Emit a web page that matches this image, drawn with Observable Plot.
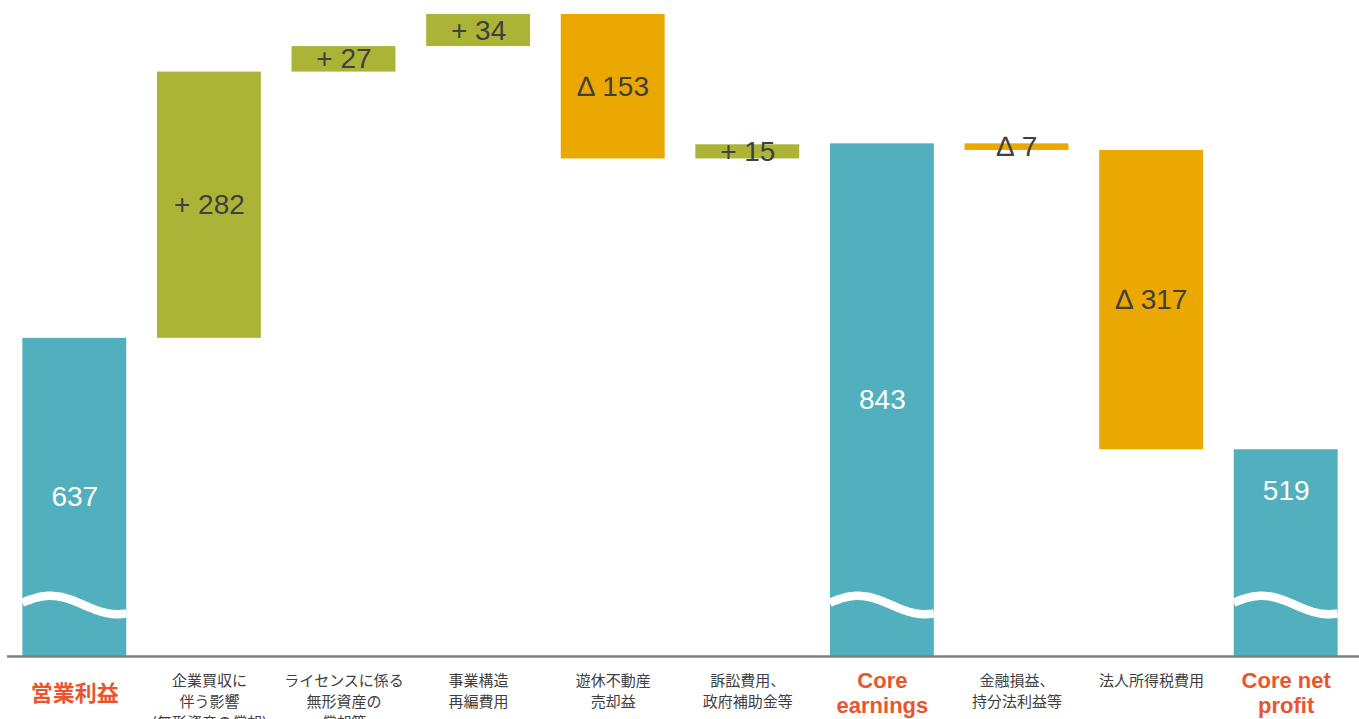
<!DOCTYPE html>
<html>
<head>
<meta charset="utf-8">
<script src="https://cdn.jsdelivr.net/npm/d3@7"></script>
<script src="https://cdn.jsdelivr.net/npm/@observablehq/plot@0.6"></script>
<style>
  html, body { margin: 0; padding: 0; background: #fff; }
  #chart svg { display: block; }
</style>
</head>
<body>
<div id="chart"></div>
<script>
// ---- data ----
const categories = [
  "営業利益",
  "企業買収に\n伴う影響\n(無形資産の償却)",
  "ライセンスに係る\n無形資産の\n償却等",
  "事業構造\n再編費用",
  "遊休不動産\n売却益",
  "訴訟費用、\n政府補助金等",
  "Core\nearnings",
  "金融損益、\n持分法利益等",
  "法人所得税費用",
  "Core net\nprofit"
];
const values = [637, 282, 27, 34, -153, 15, 843, -7, -317, 519];
const kinds = ["total", "delta", "delta", "delta", "delta", "delta", "total", "delta", "delta", "total"];
const axisBase = 300;   // truncated axis start
const axisTop = 980;
const axisBreak = 354;  // where the wavy break is drawn on total bars

// ---- derived table ----
let running = 0;
const rows = categories.map((cat, i) => {
  const v = values[i];
  const kind = kinds[i];
  let y1, y2, label;
  if (kind === "total") {
    y1 = axisBase; y2 = v; running = v; label = String(v);
  } else {
    y1 = running; y2 = running + v; running = y2;
    label = v >= 0 ? "+ " + v : "∆ " + Math.abs(v);
  }
  return {cat, v, kind, y1, y2, label, sign: kind === "total" ? "total" : (v >= 0 ? "pos" : "neg")};
});
const totals = rows.filter(d => d.kind === "total");
const deltas = rows.filter(d => d.kind === "delta");

const colors = {total: "#52B0BE", pos: "#ABB436", neg: "#EBA800"};
const textDark = "#404040";
const accent = "#E9552F";
const latin = "'Liberation Sans', Arial, 'Noto Sans CJK JP', sans-serif";

const chart = Plot.plot({
  width: 1359,
  height: 719,
  marginTop: 14,
  marginBottom: 63,
  marginLeft: 7,
  marginRight: 6,
  style: {fontFamily: latin, background: "#fff"},
  x: {domain: categories, paddingInner: 0.228, paddingOuter: 0.114, round: false, axis: null},
  y: {domain: [axisBase, axisTop], axis: null},
  marks: [
    Plot.barY(deltas, {x: "cat", y1: "y1", y2: "y2", fill: d => colors[d.sign]}),
    Plot.barY(totals, {
      x: "cat", y1: "y1", y2: "y2", fill: colors.total,
      render(index, scales, vals, dimensions, context, next) {
        const g = next(index, scales, vals, dimensions, context);
        const bw = scales.x.bandwidth();
        const yc = scales.y(axisBreak);
        const line = d3.line().curve(d3.curveBasis);
        for (const d of totals) {
          const x0 = scales.x(d.cat);
          const pts = d3.range(0, 41).map(k => {
            const t = k / 40 * bw;
            return [x0 + t, yc - 9.25 * Math.cos(2 * Math.PI * (t - 28) / 134)];
          });
          d3.select(g).append("path")
            .attr("d", line(pts))
            .attr("fill", "none")
            .attr("stroke", "#fff")
            .attr("stroke-width", 8.5);
        }
        return g;
      }
    }),
    Plot.ruleY([axisBase], {stroke: "#808080", strokeWidth: 2.6, insetRight: -6}),
    // value labels
    Plot.text(deltas, {x: "cat", y: d => (d.y1 + d.y2) / 2, text: "label", fill: textDark, fontSize: 28, fontFamily: latin}),
    Plot.text(totals.slice(0, 2), {x: "cat", y: d => (d.y1 + d.y2) / 2, text: "label", fill: "#fff", fontSize: 28, fontFamily: latin}),
    Plot.text(totals.slice(2), {x: "cat", y: d => d.y2, dy: 41, text: "label", fill: "#fff", fontSize: 28, fontFamily: latin}),
    // category labels
    Plot.text(deltas, {x: "cat", frameAnchor: "bottom", text: "cat", lineAnchor: "top", dy: 15, fontSize: 15, lineHeight: 1.38, fill: textDark, fontFamily: "'Noto Sans CJK JP', sans-serif"}),
    Plot.text(totals, {x: "cat", frameAnchor: "bottom", text: "cat", lineAnchor: "middle", dy: 36, fontSize: 22, fontWeight: "bold", lineHeight: 1.15, fill: accent, fontFamily: latin})
  ]
});
document.getElementById("chart").appendChild(chart);
</script>
</body>
</html>
